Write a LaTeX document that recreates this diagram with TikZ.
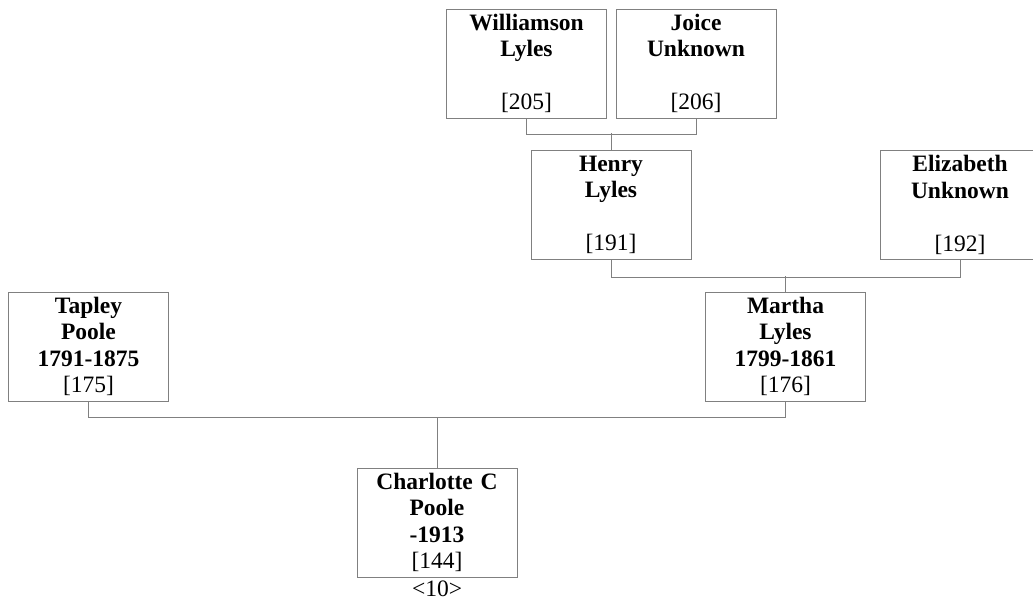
\documentclass[tikz,border=0pt]{standalone}
\usepackage{fontspec}
\setmainfont{Liberation Serif}
\usetikzlibrary{positioning}
\begin{document}
\begin{tikzpicture}[x=1pt,y=-1pt,
    pers/.style={draw=gray,line width=1pt,text width=150pt,inner sep=5pt,
      minimum height=109pt,align=center,font=\fontsize{23.5}{26.5}\selectfont},
    link/.style={draw=gray,line width=1pt}]
    \useasboundingbox (0,0) rectangle (1033,603);
    \node[pers] (w) at (526.5,63.5) {\textbf{Williamson}\\\textbf{Lyles}\\~\\{[205]}};
    \node[pers] (j) at (696,63.5) {\textbf{Joice}\\\textbf{Unknown}\\~\\{[206]}};
    \node[pers] (h) at (611,205) {\textbf{Henry}\\\textbf{Lyles}\\~\\{[191]}};
    \node[pers] (e) at (960,205) {\textbf{Elizabeth}\\\textbf{Unknown}\\~\\{[192]}};
    \node[pers] (t) at (88.5,346.5) {\textbf{Tapley}\\\textbf{Poole}\\\textbf{1791-1875}\\{[175]}};
    \node[pers] (m) at (785.5,346.5) {\textbf{Martha}\\\textbf{Lyles}\\\textbf{1799-1861}\\{[176]}};
    \node[pers] (c) at (437,522.5) {\textbf{Charlotte C}\\\textbf{Poole}\\\textbf{-1913}\\{[144]}};
    \node[below=0pt of c,font=\fontsize{23.5}{26.5}\selectfont] (gen) {<10>};
    \draw[link] (w.south) -- ++(0,16) -| (j.south);
    \draw[link] (h.north) -- ++(0,-17);
    \draw[link] (h.south) -- ++(0,17) -| (e.south);
    \draw[link] (m.north) -- ++(0,-16);
    \draw[link] (t.south) -- ++(0,16) -| (m.south);
    \draw[link] (c.north) -- ++(0,-51);
\end{tikzpicture}
\end{document}
